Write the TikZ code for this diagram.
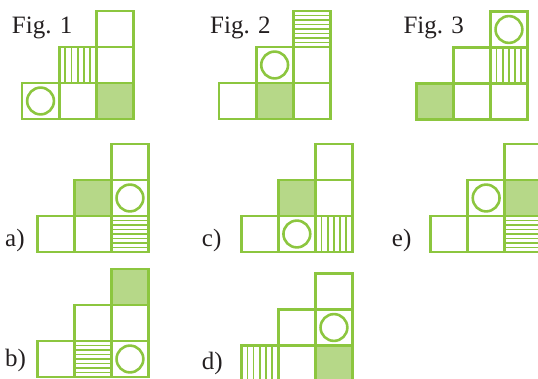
\documentclass[tikz,border=0pt]{standalone}
\usepackage{fontspec}
\setmainfont{Liberation Serif}
\definecolor{grn}{RGB}{140,198,63}
\definecolor{lgrn}{RGB}{182,216,136}
\definecolor{ink}{RGB}{35,31,32}
\tikzset{
  cellbox/.style={draw=grn, line width=2.9pt},
  fillc/.style={fill=lgrn},
  stripe/.style={draw=grn, line width=1.7pt},
  circ/.style={draw=grn, line width=2.6pt},
  lbl/.style={anchor=base west, inner sep=0pt, text=ink, font=\fontsize{25}{30}\selectfont},
  blk/.style={x=37.1pt, y=36pt}
}
\newcommand\sqE[2]{\draw[cellbox] (#1,#2) rectangle ++(1,1);}
\newcommand\sqF[2]{\fill[fillc] (#1,#2) rectangle ++(1,1);\draw[cellbox] (#1,#2) rectangle ++(1,1);}
\newcommand\sqO[2]{\draw[circ] (#1+0.5,#2+0.5) circle[radius=13.4pt];\draw[cellbox] (#1,#2) rectangle ++(1,1);}
\newcommand\sqV[2]{\foreach \k in {1,...,5}{\draw[stripe] (#1+\k/6,#2) -- ++(0,1);}\draw[cellbox] (#1,#2) rectangle ++(1,1);}
\newcommand\sqH[2]{\foreach \k in {1,...,7}{\draw[stripe] (#1,#2+\k/8) -- ++(1,0);}\draw[cellbox] (#1,#2) rectangle ++(1,1);}
\begin{document}
\begin{tikzpicture}[x=1pt,y=-1pt]
\useasboundingbox (0,0) rectangle (538,379);
\clip (0,0) rectangle (538,379);
% labels
\node[lbl] (f1) at (11.7,33.3) {Fig. 1};
\node[lbl] (f2) at (210,33.3) {Fig. 2};
\node[lbl] (f3) at (403.3,33.3) {Fig. 3};
\node[lbl] (la) at (5,246.5) {a)};
\node[lbl] (lc) at (201.7,246.5) {c)};
\node[lbl] (le) at (391.7,246.5) {e)};
\node[lbl] (lb) at (5,366) {b)};
\node[lbl] (ld) at (201.7,369) {d)};
% Fig 1
\begin{scope}[shift={(22,119)},blk]
\sqO00 \sqE10 \sqF20 \sqV11 \sqE21 \sqE22
\end{scope}
% Fig 2
\begin{scope}[shift={(219,119)},blk]
\sqE00 \sqF10 \sqE20 \sqO11 \sqE21 \sqH22
\end{scope}
% Fig 3
\begin{scope}[shift={(416.2,119.5)},blk]
\sqF00 \sqE10 \sqE20 \sqE11 \sqV21 \sqO22
\end{scope}
% a
\begin{scope}[shift={(37.2,252)},blk]
\sqE00 \sqE10 \sqH20 \sqF11 \sqO21 \sqE22
\end{scope}
% c
\begin{scope}[shift={(241.2,252)},blk]
\sqE00 \sqO10 \sqV20 \sqF11 \sqE21 \sqE22
\end{scope}
% e
\begin{scope}[shift={(430.5,252)},blk]
\sqE00 \sqE10 \sqH20 \sqO11 \sqF21 \sqE22
\end{scope}
% b
\begin{scope}[shift={(37.2,377)},blk]
\sqE00 \sqH10 \sqO20 \sqE11 \sqE21 \sqF22
\end{scope}
% d
\begin{scope}[shift={(241.2,381.5)},blk]
\sqV00 \sqE10 \sqF20 \sqE11 \sqO21 \sqE22
\end{scope}
\end{tikzpicture}
\end{document}
